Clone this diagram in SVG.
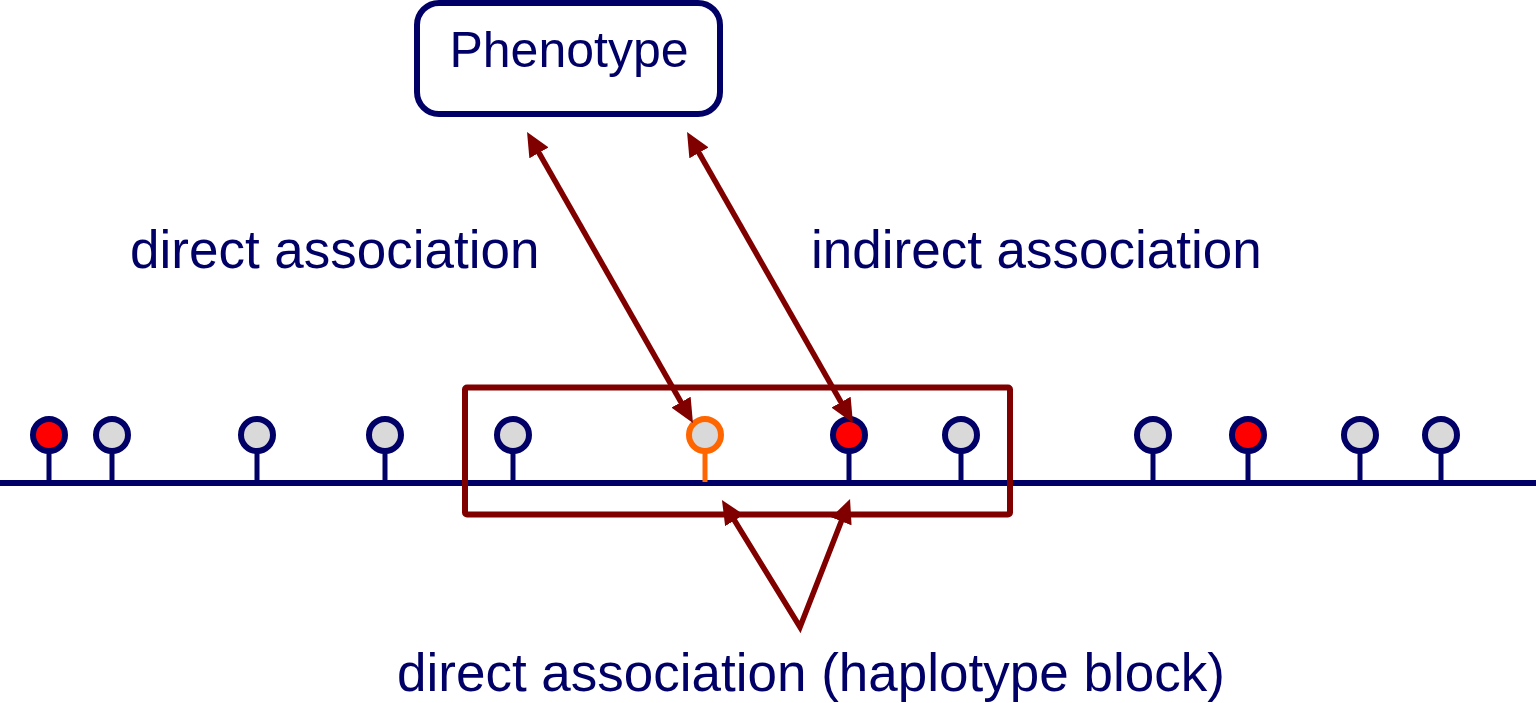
<svg xmlns="http://www.w3.org/2000/svg" width="1536" height="703" viewBox="0 0 1536 703">
<defs>
<style>
.lbl{font-family:"Liberation Sans",Arial,sans-serif;font-size:53px;fill:#000066}
.stem{stroke:#000066;stroke-width:5}
.snp{stroke:#000066;stroke-width:6}
.gray{fill:#D9D9D9}
.red{fill:#FF0000}
.conn{fill:none;stroke:#800000;stroke-width:5.5}
</style>
<marker id="ah" viewBox="0 0 24 22" refX="14" refY="11" markerWidth="24" markerHeight="22" markerUnits="userSpaceOnUse" orient="auto-start-reverse">
<path d="M0,0 L24,11 L0,22 z" fill="#800000"/>
</marker>
</defs>
<rect width="1536" height="703" fill="#ffffff"/>
<g id="chromosome">
<line x1="0" y1="483" x2="1536" y2="483" stroke="#000066" stroke-width="6"/>
</g>
<g id="snps">
<g id="snp1"><line class="stem" x1="49" y1="452" x2="49" y2="483"/><circle class="snp red" cx="49" cy="435" r="16"/></g>
<g id="snp2"><line class="stem" x1="112" y1="452" x2="112" y2="483"/><circle class="snp gray" cx="112" cy="435" r="16"/></g>
<g id="snp3"><line class="stem" x1="257" y1="452" x2="257" y2="483"/><circle class="snp gray" cx="257" cy="435" r="16"/></g>
<g id="snp4"><line class="stem" x1="385" y1="452" x2="385" y2="483"/><circle class="snp gray" cx="385" cy="435" r="16"/></g>
<g id="snp5"><line class="stem" x1="513" y1="452" x2="513" y2="483"/><circle class="snp gray" cx="513" cy="435" r="16"/></g>
<g id="snp6"><line x1="705" y1="452" x2="705" y2="482" stroke="#FF6600" stroke-width="5"/><circle cx="705" cy="435" r="16" fill="#D9D9D9" stroke="#FF6600" stroke-width="6"/></g>
<g id="snp7"><line class="stem" x1="849" y1="452" x2="849" y2="483"/><circle class="snp red" cx="849" cy="435" r="16"/></g>
<g id="snp8"><line class="stem" x1="961" y1="452" x2="961" y2="483"/><circle class="snp gray" cx="961" cy="435" r="16"/></g>
<g id="snp9"><line class="stem" x1="1153" y1="452" x2="1153" y2="483"/><circle class="snp gray" cx="1153" cy="435" r="16"/></g>
<g id="snp10"><line class="stem" x1="1248" y1="452" x2="1248" y2="483"/><circle class="snp red" cx="1248" cy="435" r="16"/></g>
<g id="snp11"><line class="stem" x1="1360" y1="452" x2="1360" y2="483"/><circle class="snp gray" cx="1360" cy="435" r="16"/></g>
<g id="snp12"><line class="stem" x1="1441" y1="452" x2="1441" y2="483"/><circle class="snp gray" cx="1441" cy="435" r="16"/></g>
</g>
<g id="haplotype-block">
<rect x="465" y="387.5" width="545" height="127" rx="2" fill="none" stroke="#800000" stroke-width="6"/>
</g>
<g id="phenotype">
<rect x="417" y="3" width="303" height="111" rx="22" fill="#ffffff" stroke="#000066" stroke-width="6"/>
<text class="lbl" x="569" y="67" text-anchor="middle" style="font-size:50px">Phenotype</text>
</g>
<g id="connectors">
<line class="conn" x1="532" y1="140.7" x2="688" y2="414.3" marker-start="url(#ah)" marker-end="url(#ah)"/>
<line class="conn" x1="692" y1="140.7" x2="848" y2="414.3" marker-start="url(#ah)" marker-end="url(#ah)"/>
<polyline class="conn" points="727.2,508.5 800,627 846.4,508.3" marker-start="url(#ah)" marker-end="url(#ah)"/>
</g>
<g id="labels">
<text class="lbl" x="130" y="268">direct association</text>
<text class="lbl" x="811" y="268">indirect association</text>
<text class="lbl" x="397" y="691">direct association (haplotype block)</text>
</g>
</svg>
